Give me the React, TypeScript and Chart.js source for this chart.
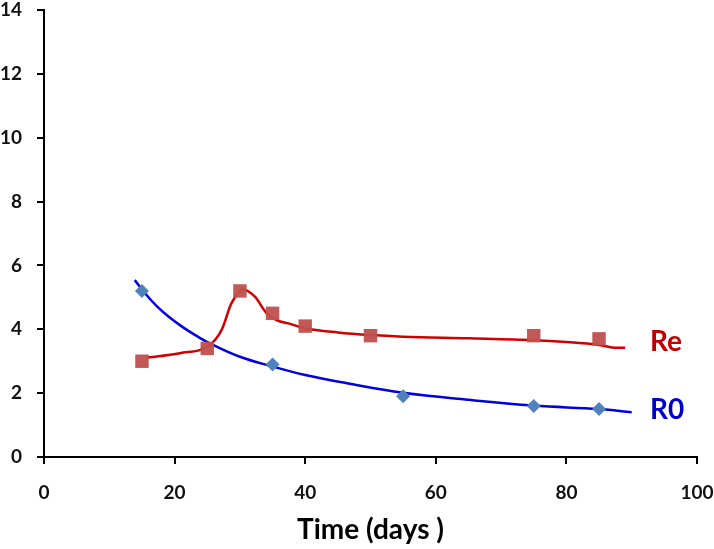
import React, { useEffect, useRef } from "react";
import { Chart, registerables } from "chart.js";

Chart.register(...registerables);

// Observed data (days, value)
const reDays = [15, 25, 30, 35, 40, 50, 75, 85];
const reValues = [3.0, 3.4, 5.2, 4.5, 4.1, 3.8, 3.8, 3.7];
const r0Days = [15, 35, 55, 75, 85];
const r0Values = [5.2, 2.9, 1.9, 1.6, 1.5];

// Fitted curves
const reCurveDays = [15.5, 20.8, 25.4, 27.2, 28.7, 30.5, 32.3, 34.1, 35.6, 37.7, 40, 45, 50, 55, 65, 75, 80, 85, 87.7, 89];
const reCurveValues = [3.11, 3.25, 3.51, 3.98, 4.81, 5.25, 5.02, 4.5, 4.29, 4.17, 4.03, 3.9, 3.82, 3.77, 3.72, 3.66, 3.6, 3.51, 3.42, 3.42];
const r0CurveDays = [13.9, 15.5, 17.3, 19.3, 21.3, 23.3, 25.4, 30, 35.1, 40, 46.4, 55, 65, 75, 85, 90];
const r0CurveValues = [5.54, 5.12, 4.72, 4.36, 4.06, 3.8, 3.56, 3.14, 2.83, 2.57, 2.31, 2.01, 1.79, 1.61, 1.5, 1.4];

const xTicks = [0, 20, 40, 60, 80, 100];
const yTicks = [0, 2, 4, 6, 8, 10, 12, 14];

const seriesLabels = [
  { text: "Re", x: 92.8, y: 3.6, color: "#C00000" },
  { text: "R0", x: 92.8, y: 1.47, color: "#0000CC" },
];

const FONT = "Lato, 'Open Sans', sans-serif";

const toPts = (xs: number[], ys: number[]) => xs.map((x, i) => ({ x, y: ys[i] }));

const labelPlugin = {
  id: "seriesLabels",
  afterDraw(chart: any) {
    const ctx = chart.ctx;
    const xs = chart.scales.x;
    const ys = chart.scales.y;
    ctx.save();
    ctx.font = `bold 28px ${FONT}`;
    ctx.textAlign = "left";
    ctx.textBaseline = "middle";
    for (const l of seriesLabels) {
      ctx.fillStyle = l.color;
      ctx.fillText(l.text, xs.getPixelForValue(l.x), ys.getPixelForValue(l.y));
    }
    ctx.restore();
  },
};

export default function App() {
  const ref = useRef<HTMLCanvasElement>(null);
  useEffect(() => {
    if (!ref.current) return;
    const chart = new Chart(ref.current, {
      type: "scatter",
      data: {
        datasets: [
          {
            data: toPts(reCurveDays, reCurveValues),
            showLine: true,
            borderColor: "#D00000",
            borderWidth: 2.5,
            pointRadius: 0,
            cubicInterpolationMode: "monotone",
            order: 3,
          } as any,
          {
            data: toPts(r0CurveDays, r0CurveValues),
            showLine: true,
            borderColor: "#0000E0",
            borderWidth: 2.5,
            pointRadius: 0,
            tension: 0.4,
            order: 4,
          } as any,
          {
            data: toPts(reDays, reValues),
            pointStyle: "rect",
            pointRadius: 9.5,
            backgroundColor: "rgba(192,80,77,0.95)",
            borderWidth: 0,
            order: 2,
          },
          {
            data: toPts(r0Days, r0Values),
            pointStyle: "rectRot",
            pointRadius: 7,
            backgroundColor: "#4F81BD",
            borderWidth: 0,
            order: 1,
          },
        ],
      },
      options: {
        animation: false,
        responsive: false,
        layout: { padding: { top: 10, right: 17, left: 0, bottom: 0 } },
        plugins: { legend: { display: false }, tooltip: { enabled: false } },
        scales: {
          x: {
            type: "linear",
            min: 0,
            max: 100,
            afterFit: (s: any) => {
              s.height = 92;
              s.paddingLeft = 0;
              s.paddingRight = 0;
            },
            afterBuildTicks: (s: any) => { s.ticks = xTicks.map((v) => ({ value: v })); },
            border: { display: true, color: "#000", width: 2 },
            grid: { display: true, drawOnChartArea: false, drawTicks: true, tickLength: 7, color: "#000", lineWidth: 2 },
            ticks: { color: "#111", font: { family: FONT, size: 19, weight: "bold" }, padding: 17, maxRotation: 0 },
            title: {
              display: true,
              text: "Time (days )",
              color: "#000",
              font: { family: FONT, size: 28, weight: "bold" },
              padding: { top: 0, bottom: 2 },
            },
          },
          y: {
            type: "linear",
            min: 0,
            max: 14,
            afterFit: (s: any) => {
              s.width = 44;
              s.paddingTop = 0;
              s.paddingBottom = 0;
            },
            afterBuildTicks: (s: any) => { s.ticks = yTicks.map((v) => ({ value: v })); },
            border: { display: true, color: "#000", width: 2 },
            grid: { display: true, drawOnChartArea: false, drawTicks: true, tickLength: 7, color: "#000", lineWidth: 2 },
            ticks: { color: "#111", font: { family: FONT, size: 19, weight: "bold" }, padding: 15 },
          },
        },
      },
      plugins: [labelPlugin],
    });
    return () => chart.destroy();
  }, []);
  return (
    <div style={{ position: "fixed", left: 0, top: 0, width: 714, height: 549, background: "#fff" }}>
      <canvas ref={ref} width={714} height={549} />
    </div>
  );
}
